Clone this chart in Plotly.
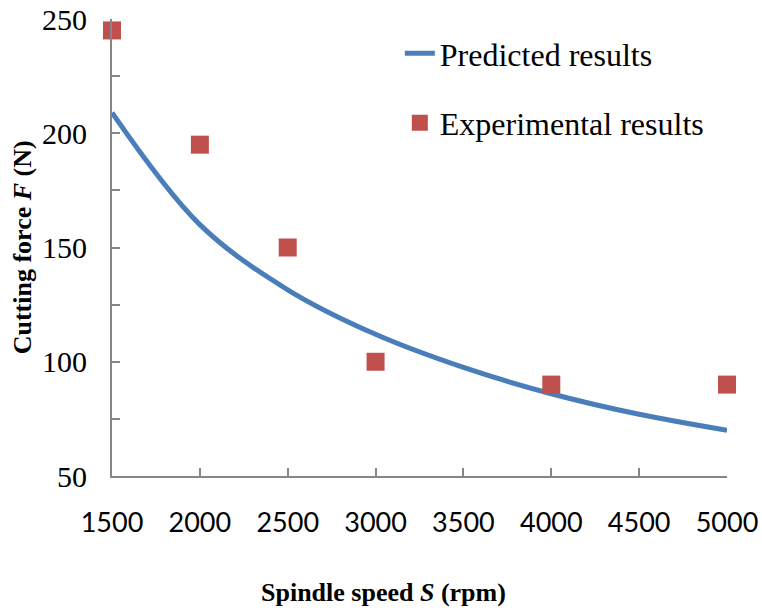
import plotly.graph_objects as go

# Data
pred_speed = [1500, 2000, 2500, 3000, 3500, 4000, 4500, 5000]
pred_force = [209, 160, 131.5, 112, 97.5, 86, 77, 70]
exp_speed = [1500, 2000, 2500, 3000, 4000, 5000]
exp_force = [245, 195, 150, 100, 90, 90]
x_ticks = [1500, 2000, 2500, 3000, 3500, 4000, 4500, 5000]
y_ticks = [50, 75, 100, 125, 150, 175, 200, 225, 250]
y_ticktext = ["50", "", "100", "", "150", "", "200", "", "250"]

serif = "Liberation Serif, Times New Roman, serif"

fig = go.Figure()
fig.add_trace(go.Scatter(
    x=pred_speed, y=pred_force, mode="lines", name="Predicted results",
    line=dict(color="#4A7EBB", width=5, shape="spline", smoothing=1.0),
    legendgroup="a",
))
fig.add_trace(go.Scatter(
    x=exp_speed, y=exp_force, mode="markers", name="Experimental results",
    marker=dict(symbol="square", size=18, color="#C0504D"),
    legendgroup="b", cliponaxis=False,
))

axis_color = "#868686"
fig.update_layout(
    width=762, height=613,
    margin=dict(l=112, r=35, t=19, b=137),
    paper_bgcolor="white", plot_bgcolor="white",
    showlegend=True,
    legend=dict(
        x=0.468, y=0.985, xanchor="left", yanchor="top",
        font=dict(family=serif, size=32, color="black"),
        tracegroupgap=25, bgcolor="rgba(0,0,0,0)",
    ),
    xaxis=dict(
        range=[1500, 5000], tickvals=x_ticks, automargin=False,
        ticks="inside", ticklen=8, tickwidth=1.5, tickcolor=axis_color,
        showline=True, linecolor=axis_color, linewidth=2,
        showgrid=False, zeroline=False,
        tickfont=dict(family="Lato, sans-serif", size=27, color="black"),
        ticklabelstandoff=22,
    ),
    yaxis=dict(
        range=[50, 250], tickvals=y_ticks, ticktext=y_ticktext, automargin=False,
        ticks="inside", ticklen=8, tickwidth=1.5, tickcolor=axis_color,
        showline=True, linecolor=axis_color, linewidth=2,
        showgrid=False, zeroline=False,
        tickfont=dict(family=serif, size=30, color="black"),
        ticklabelstandoff=17,
    ),
    annotations=[
        dict(text="<b>Spindle speed <i>S</i> (rpm)</b>", xref="paper", yref="paper",
             x=0.442, y=-0.254, xanchor="center", yanchor="middle", showarrow=False,
             font=dict(family=serif, size=26, color="black")),
        dict(text="<b>Cutting force <i>F</i> (N)</b>", xref="paper", yref="paper",
             x=-0.145, y=0.5, xanchor="center", yanchor="middle", showarrow=False,
             textangle=-90, font=dict(family=serif, size=26, color="black")),
    ],
)

fig.write_html("out.html")
